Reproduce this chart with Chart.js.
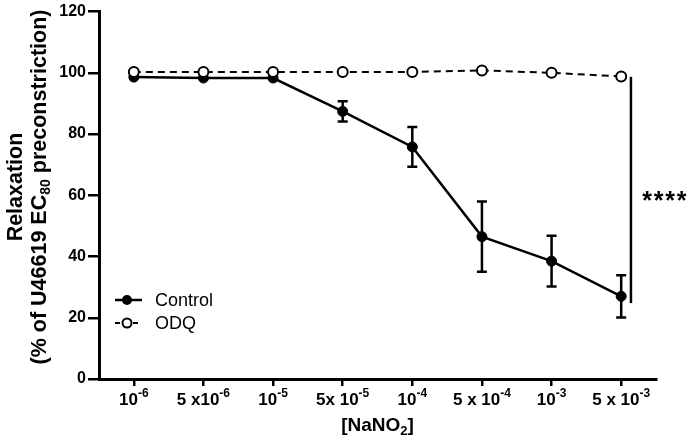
<!DOCTYPE html>
<html>
<head>
<meta charset="utf-8">
<script src="https://cdn.jsdelivr.net/npm/chart.js@4/dist/chart.umd.min.js"></script>
<style>
  html, body { margin: 0; padding: 0; background: #fff; }
  #wrap { width: 688px; height: 440px; position: relative; }
</style>
</head>
<body>
<div id="wrap"><canvas id="chart"></canvas></div>
<script>
// concentrations of NaNO2 (mantissa / exponent for the tick labels)
const doseLabels = ['1e-6', '5e-6', '1e-5', '5e-5', '1e-4', '5e-4', '1e-3', '5e-3'];
const tickPrefix = ['10', '5 x10', '10', '5x 10', '10', '5 x 10', '10', '5 x 10'];
const tickExp = ['-6', '-6', '-5', '-5', '-4', '-4', '-3', '-3'];

const controlMean = [98.6, 98.3, 98.3, 87.4, 75.8, 46.5, 38.5, 27.0];
const controlErr = [0.8, 0.8, 0.8, 3.3, 6.5, 11.5, 8.3, 6.9];
const odqMean = [100.3, 100.3, 100.3, 100.3, 100.3, 100.8, 100.0, 98.8];

const yTicks = [0, 20, 40, 60, 80, 100, 120];

// significance bracket: x position (in category units) and y range
const sigX = 7.14;
const sigRange = [98.7, 24.8];

const FONT = '"Liberation Sans", Arial, sans-serif';

// error bars under the control points
const errorBars = {
    id: 'errorBars',
    beforeDatasetsDraw(chart) {
        const meta = chart.getDatasetMeta(0);
        const y = chart.scales.y;
        const ctx = chart.ctx;
        ctx.save();
        ctx.strokeStyle = '#000';
        ctx.lineWidth = 2.5;
        meta.data.forEach((pt, i) => {
            const e = controlErr[i];
            if (e < 2) return;
            const top = y.getPixelForValue(controlMean[i] + e);
            const bot = y.getPixelForValue(controlMean[i] - e);
            ctx.beginPath();
            ctx.moveTo(pt.x, top); ctx.lineTo(pt.x, bot);
            ctx.moveTo(pt.x - 5, top); ctx.lineTo(pt.x + 5, top);
            ctx.moveTo(pt.x - 5, bot); ctx.lineTo(pt.x + 5, bot);
            ctx.stroke();
        });
        ctx.restore();
    }
};

// axis titles, x tick labels with superscripts, legend, significance bar
const decorations = {
    id: 'decorations',
    afterDraw(chart) {
        const ctx = chart.ctx;
        const x = chart.scales.x;
        const y = chart.scales.y;
        ctx.save();
        ctx.fillStyle = '#000';
        ctx.strokeStyle = '#000';

        // x tick labels
        ctx.textBaseline = 'alphabetic';
        tickPrefix.forEach((p, i) => {
            const cx = x.getPixelForTick(i);
            ctx.font = 'bold 17px ' + FONT;
            const w1 = ctx.measureText(p).width;
            ctx.font = 'bold 12px ' + FONT;
            const w2 = ctx.measureText(tickExp[i]).width;
            const left = cx - (w1 + w2) / 2;
            ctx.font = 'bold 17px ' + FONT;
            ctx.textAlign = 'left';
            ctx.fillText(p, left, 405);
            ctx.font = 'bold 12px ' + FONT;
            ctx.fillText(tickExp[i], left + w1, 397);
        });

        // x title [NaNO2]
        ctx.font = 'bold 19px ' + FONT;
        const a = '[NaNO', b = '2', c = ']';
        const wa = ctx.measureText(a).width;
        const wc = ctx.measureText(c).width;
        ctx.font = 'bold 13px ' + FONT;
        const wb = ctx.measureText(b).width;
        const cxTitle = (chart.chartArea.left + chart.chartArea.right) / 2;
        let sx = cxTitle - (wa + wb + wc) / 2;
        ctx.font = 'bold 19px ' + FONT;
        ctx.fillText(a, sx, 431);
        ctx.font = 'bold 13px ' + FONT;
        ctx.fillText(b, sx + wa, 435);
        ctx.font = 'bold 19px ' + FONT;
        ctx.fillText(c, sx + wa + wb, 431);

        // y title, rotated
        ctx.save();
        ctx.translate(0, 187);
        ctx.rotate(-Math.PI / 2);
        ctx.textAlign = 'center';
        ctx.font = 'bold 21.5px ' + FONT;
        ctx.fillText('Relaxation', 0, 22);
        const s1 = '(% of U46619 EC', s2 = '80', s3 = ' preconstriction)';
        const w1 = ctx.measureText(s1).width, w3 = ctx.measureText(s3).width;
        ctx.font = 'bold 14px ' + FONT;
        const w2 = ctx.measureText(s2).width;
        ctx.textAlign = 'left';
        let ly = -(w1 + w2 + w3) / 2;
        ctx.font = 'bold 21.5px ' + FONT;
        ctx.fillText(s1, ly, 46);
        ctx.font = 'bold 14px ' + FONT;
        ctx.fillText(s2, ly + w1, 50);
        ctx.font = 'bold 21.5px ' + FONT;
        ctx.fillText(s3, ly + w1 + w2, 46);
        ctx.restore();

        // legend
        ctx.lineWidth = 2.5;
        ctx.beginPath();
        ctx.moveTo(115, 300); ctx.lineTo(142, 300);
        ctx.stroke();
        ctx.beginPath();
        ctx.arc(127, 300, 5, 0, Math.PI * 2);
        ctx.fill();
        ctx.lineWidth = 2;
        ctx.setLineDash([5, 4]);
        ctx.beginPath();
        ctx.moveTo(115, 323); ctx.lineTo(142, 323);
        ctx.stroke();
        ctx.setLineDash([]);
        ctx.fillStyle = '#fff';
        ctx.beginPath();
        ctx.arc(127, 323, 4.5, 0, Math.PI * 2);
        ctx.fill(); ctx.stroke();
        ctx.fillStyle = '#000';
        ctx.font = '18px ' + FONT;
        ctx.textAlign = 'left';
        ctx.textBaseline = 'middle';
        ctx.fillText('Control', 155, 301);
        ctx.fillText('ODQ', 155, 324);

        // significance bar and stars
        const bx = x.getPixelForValue(sigX);
        ctx.lineWidth = 2.5;
        ctx.beginPath();
        ctx.moveTo(bx, y.getPixelForValue(sigRange[0]));
        ctx.lineTo(bx, y.getPixelForValue(sigRange[1]));
        ctx.stroke();
        ctx.font = 'bold 25px ' + FONT;
        ctx.textBaseline = 'alphabetic';
        ctx.textAlign = 'center';
        for (let k = 0; k < 4; k++) {
            ctx.fillText('*', 647 + k * 11.5, 209);
        }
        ctx.restore();
    }
};

new Chart(document.getElementById('chart'), {
    type: 'line',
    data: {
        labels: doseLabels,
        datasets: [
            {
                label: 'Control',
                data: controlMean,
                borderColor: '#000',
                backgroundColor: '#000',
                borderWidth: 2.5,
                pointRadius: 5,
                pointBorderWidth: 1,
                pointBackgroundColor: '#000',
                tension: 0,
                order: 2
            },
            {
                label: 'ODQ',
                data: odqMean,
                borderColor: '#000',
                backgroundColor: '#fff',
                borderWidth: 2,
                borderDash: [7, 5],
                pointRadius: 5,
                pointBorderWidth: 2,
                pointBackgroundColor: '#fff',
                tension: 0,
                order: 1
            }
        ]
    },
    options: {
        responsive: true,
        maintainAspectRatio: false,
        animation: false,
        events: [],
        layout: { padding: { top: 11, right: 32, left: 0, bottom: 0 } },
        plugins: { legend: { display: false }, tooltip: { enabled: false } },
        scales: {
            x: {
                type: 'category',
                offset: true,
                afterFit: (s) => { s.height = 61; },
                grid: { drawOnChartArea: false, drawTicks: true, tickLength: 7, color: '#000', lineWidth: 2.5 },
                border: { color: '#000', width: 3 },
                ticks: { display: false }
            },
            y: {
                min: 0,
                max: 120,
                afterFit: (s) => { s.width = 99; },
                afterBuildTicks: (s) => { s.ticks = yTicks.map(v => ({ value: v })); },
                grid: { drawOnChartArea: false, drawTicks: true, tickLength: 11, color: '#000', lineWidth: 2.5 },
                border: { color: '#000', width: 3 },
                ticks: {
                    color: '#000',
                    padding: 2,
                    font: { family: FONT, size: 16, weight: 'bold' }
                }
            }
        }
    },
    plugins: [errorBars, decorations]
});
</script>
</body>
</html>
